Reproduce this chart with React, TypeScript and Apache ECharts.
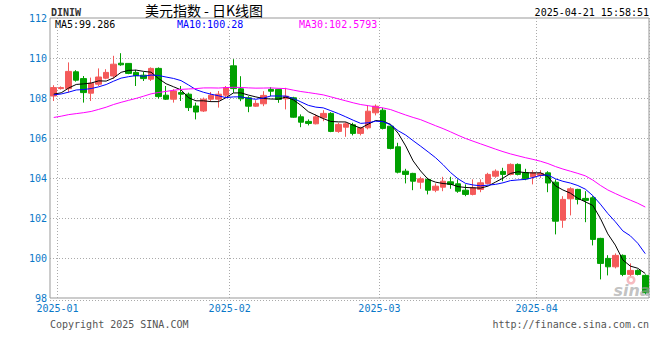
import React, { useEffect, useRef } from "react";
import * as echarts from "echarts";

const dates = [
  "2024-12-31",
  "2025-01-01", "2025-01-02", "2025-01-03", "2025-01-06", "2025-01-07", "2025-01-08", "2025-01-09", "2025-01-10",
  "2025-01-13", "2025-01-14", "2025-01-15", "2025-01-16", "2025-01-17", "2025-01-20", "2025-01-21", "2025-01-22",
  "2025-01-23", "2025-01-24", "2025-01-27", "2025-01-28", "2025-01-29", "2025-01-30", "2025-01-31",
  "2025-02-03", "2025-02-04", "2025-02-05", "2025-02-06", "2025-02-07", "2025-02-10", "2025-02-11", "2025-02-12",
  "2025-02-13", "2025-02-14", "2025-02-17", "2025-02-18", "2025-02-19", "2025-02-20", "2025-02-21", "2025-02-24",
  "2025-02-25", "2025-02-26", "2025-02-27", "2025-02-28",
  "2025-03-03", "2025-03-04", "2025-03-05", "2025-03-06", "2025-03-07", "2025-03-10", "2025-03-11", "2025-03-12",
  "2025-03-13", "2025-03-14", "2025-03-17", "2025-03-18", "2025-03-19", "2025-03-20", "2025-03-21", "2025-03-24",
  "2025-03-25", "2025-03-26", "2025-03-27", "2025-03-28", "2025-03-31",
  "2025-04-01", "2025-04-02", "2025-04-03", "2025-04-04", "2025-04-07", "2025-04-08", "2025-04-09", "2025-04-10",
  "2025-04-11", "2025-04-14", "2025-04-15", "2025-04-16", "2025-04-17", "2025-04-18", "2025-04-21",
];

const opens = [
  108.10, 108.47, 108.47, 109.31, 108.97, 108.24, 108.69, 108.99, 109.10, 109.74,
  109.73, 109.28, 109.14, 108.94, 109.48, 108.14, 107.94, 108.27, 108.19, 107.60,
  107.35, 107.94, 107.94, 108.14, 109.61, 108.46, 108.01, 107.59, 107.71, 108.43,
  108.43, 107.96, 108.01, 107.06, 106.83, 106.71, 107.01, 107.23, 106.33, 106.54,
  106.66, 106.23, 106.51, 107.26, 107.39, 106.59, 105.56, 104.34, 104.23, 103.79,
  103.93, 103.39, 103.54, 103.81, 103.71, 103.39, 103.18, 103.43, 103.73, 104.09,
  104.33, 104.18, 104.68, 104.26, 104.06, 104.13, 104.26, 103.79, 101.89, 102.96,
  103.43, 102.98, 103.01, 100.98, 99.98, 99.56, 100.13, 99.18, 99.38, 99.13,
];

const closes = [
  108.52, 108.52, 109.33, 108.89, 108.27, 108.74, 109.05, 109.28, 109.69, 109.66,
  109.23, 109.11, 108.97, 109.48, 108.07, 107.94, 108.35, 108.19, 107.52, 107.30,
  107.94, 108.14, 108.19, 108.52, 108.47, 107.96, 107.59, 107.73, 108.13, 108.34,
  107.93, 108.09, 107.04, 106.79, 106.73, 107.06, 107.23, 106.33, 106.68, 106.71,
  106.23, 106.51, 107.34, 107.59, 106.48, 105.48, 104.29, 104.18, 103.84, 103.96,
  103.39, 103.59, 103.84, 103.68, 103.34, 103.18, 103.51, 103.76, 104.18, 104.34,
  104.18, 104.68, 104.18, 103.96, 104.26, 104.23, 103.75, 101.84, 102.93, 103.46,
  102.93, 102.88, 100.93, 99.73, 99.56, 100.13, 99.18, 99.38, 99.18, 98.26,
];

const lows = [
  107.85, 108.42, 108.27, 108.82, 107.77, 107.85, 108.60, 108.94, 108.97, 109.61,
  109.19, 108.60, 108.85, 108.85, 107.97, 107.90, 107.77, 107.85, 107.35, 106.93,
  107.30, 107.85, 107.52, 108.02, 108.26, 107.84, 107.29, 107.56, 107.59, 108.09,
  107.76, 107.43, 107.01, 106.54, 106.63, 106.68, 106.84, 106.29, 106.26, 106.06,
  106.13, 106.13, 106.43, 107.13, 106.43, 105.43, 104.23, 103.73, 103.39, 103.46,
  103.18, 103.29, 103.34, 103.46, 103.26, 103.09, 103.13, 103.29, 103.68, 104.01,
  103.84, 104.13, 104.13, 103.89, 103.68, 104.01, 103.29, 101.18, 101.51, 102.13,
  102.68, 101.79, 100.63, 98.93, 99.13, 99.48, 99.09, 99.09, 99.13, 98.18,
];

const highs = [
  108.64, 108.58, 109.78, 109.39, 109.10, 109.02, 109.48, 109.44, 110.11, 110.24,
  109.75, 109.41, 109.31, 109.53, 109.53, 108.60, 108.44, 108.60, 108.27, 107.77,
  108.02, 108.30, 108.35, 108.60, 109.94, 109.09, 108.09, 107.89, 108.34, 108.54,
  108.46, 108.51, 108.06, 107.18, 106.93, 107.18, 107.39, 107.29, 106.76, 106.79,
  106.76, 106.56, 107.63, 107.68, 107.51, 106.63, 105.76, 104.46, 104.26, 104.06,
  104.01, 103.73, 104.06, 104.06, 103.93, 103.68, 103.93, 103.93, 104.26, 104.43,
  104.51, 104.73, 104.73, 104.46, 104.39, 104.39, 104.34, 103.93, 103.09, 103.54,
  103.46, 103.34, 103.09, 101.01, 100.14, 100.23, 100.18, 99.73, 99.43, 99.18,
];

// closes before the visible window (2024-11-20 .. 2024-12-30), used only for the moving averages
const priorCloses = [
  106.58, 106.95, 107.45, 106.81, 106.91, 105.98, 105.97, 105.64, 106.37, 106.27,
  106.25, 105.63, 105.96, 106.07, 106.30, 106.59, 106.89, 106.90, 106.74, 106.95,
  108.08, 108.40, 107.82, 108.04, 108.26, 108.19, 108.13, 108.00, 108.13,
];

const legendTexts = ["MA5:99.286", "MA10:100.28", "MA30:102.5793"];
const titleText = "美元指数 - 日K线图";
const symbolText = "DINIW";
const timeText = "2025-04-21 15:58:51";
const copyrightText = "Copyright 2025 SINA.COM";
const urlText = "http://finance.sina.com.cn";

const UP = "#f45a5a";
const DOWN = "#00a000";
const BLUE_LABEL = "#0a78c8";
const MONO = "'DejaVu Sans Mono', 'Liberation Mono', monospace";

function movingAverage(n: number): number[] {
  const all = [...priorCloses, ...closes];
  return closes.map((_, i) => {
    const end = priorCloses.length + i;
    let s = 0;
    for (let k = end - n + 1; k <= end; k++) s += all[k];
    return +(s / n).toFixed(4);
  });
}

function isMonthStart(i: number): boolean {
  if (i === 0) return false;
  return dates[i].slice(0, 7) !== dates[i - 1].slice(0, 7);
}

export default function App() {
  const ref = useRef<HTMLDivElement>(null);

  useEffect(() => {
    if (!ref.current) return;
    const chart = echarts.init(ref.current, undefined, { renderer: "svg" });
    const candles = dates.map((_, i) => [opens[i], closes[i], lows[i], highs[i]]);
    const dotted = { color: "#aaaaaa", type: [1, 2] as any, width: 1 };

    chart.setOption({
      animation: false,
      backgroundColor: "#ffffff",
      grid: {
        left: 50,
        top: 18,
        right: 11,
        bottom: 62,
        show: true,
        borderColor: "#999999",
        borderWidth: 1,
      },
      xAxis: {
        type: "category",
        data: dates,
        boundaryGap: true,
        axisLine: { show: false },
        axisTick: { show: false },
        axisLabel: {
          interval: (i: number) => isMonthStart(i),
          formatter: (v: string) => v.slice(0, 7),
          color: BLUE_LABEL,
          fontFamily: MONO,
          fontSize: 10,
          margin: 5,
          padding: [0, 7.5, 0, 0],
        },
        splitLine: {
          show: true,
          interval: (i: number) => isMonthStart(i),
          lineStyle: dotted,
        },
      },
      yAxis: {
        type: "value",
        min: 98,
        max: 112,
        interval: 2,
        position: "left",
        axisLine: { show: false },
        axisTick: { show: false },
        axisLabel: {
          color: BLUE_LABEL,
          fontFamily: MONO,
          fontSize: 10,
          margin: 3,
          padding: [0, 0, 5, 0],
        },
        splitLine: {
          show: true,
          showMinLine: false,
          showMaxLine: false,
          lineStyle: dotted,
        },
      },
      series: [
        {
          type: "candlestick",
          data: candles,
          barWidth: 6,
          itemStyle: {
            color: UP,
            color0: DOWN,
            borderColor: UP,
            borderColor0: DOWN,
            borderWidth: 1,
          },
        },
        {
          type: "line",
          data: movingAverage(5),
          showSymbol: false,
          lineStyle: { color: "#000000", width: 1 },
          z: 3,
        },
        {
          type: "line",
          data: movingAverage(10),
          showSymbol: false,
          lineStyle: { color: "#0000ff", width: 1 },
          z: 3,
        },
        {
          type: "line",
          data: movingAverage(30),
          showSymbol: false,
          lineStyle: { color: "#ff00ff", width: 1 },
          z: 3,
        },
      ],
      graphic: [
        {
          type: "text", x: 51, y: 12,
          style: { text: symbolText, fill: "#333333", font: `bold 10px ${MONO}`, verticalAlign: "middle" },
        },
        {
          type: "text", x: 204, y: 10,
          style: { text: titleText, fill: "#000000", font: "14px 'Noto Sans CJK SC'", align: "center", verticalAlign: "middle" },
        },
        {
          type: "text", x: 649, y: 12,
          style: { text: timeText, fill: "#000000", font: `10px ${MONO}`, align: "right", verticalAlign: "middle" },
        },
        {
          type: "text", x: 55, y: 24,
          style: { text: legendTexts[0], fill: "#000000", font: `10px ${MONO}`, verticalAlign: "middle" },
        },
        {
          type: "text", x: 177, y: 24,
          style: { text: legendTexts[1], fill: "#0000ff", font: `10px ${MONO}`, verticalAlign: "middle" },
        },
        {
          type: "text", x: 299, y: 24,
          style: { text: legendTexts[2], fill: "#ff00ff", font: `10px ${MONO}`, verticalAlign: "middle" },
        },
        {
          type: "line", shape: { x1: 50, y1: 300.5, x2: 649, y2: 300.5 },
          style: { stroke: "#aaaaaa", lineWidth: 1, lineDash: [1, 2] },
        },
        {
          type: "text", x: 50, y: 324,
          style: { text: copyrightText, fill: "#555555", font: `10px ${MONO}`, verticalAlign: "middle" },
        },
        {
          type: "text", x: 649, y: 324,
          style: { text: urlText, fill: "#555555", font: `10px ${MONO}`, align: "right", verticalAlign: "middle" },
        },
        {
          type: "ring", shape: { cx: 631, cy: 280, r: 4.5, r0: 2 },
          style: { fill: "rgba(240,120,130,0.5)" }, z: 10,
        },
        {
          type: "text", x: 632, y: 290,
          style: { text: "sina", fill: "rgba(160,160,160,0.65)", font: "italic bold 16px 'DejaVu Sans'", align: "center", verticalAlign: "middle" },
          z: 10,
        },
      ],
    });
    return () => chart.dispose();
  }, []);

  return (
    <div
      ref={ref}
      style={{ position: "fixed", left: 0, top: 0, width: 660, height: 360, background: "#fff" }}
    />
  );
}
